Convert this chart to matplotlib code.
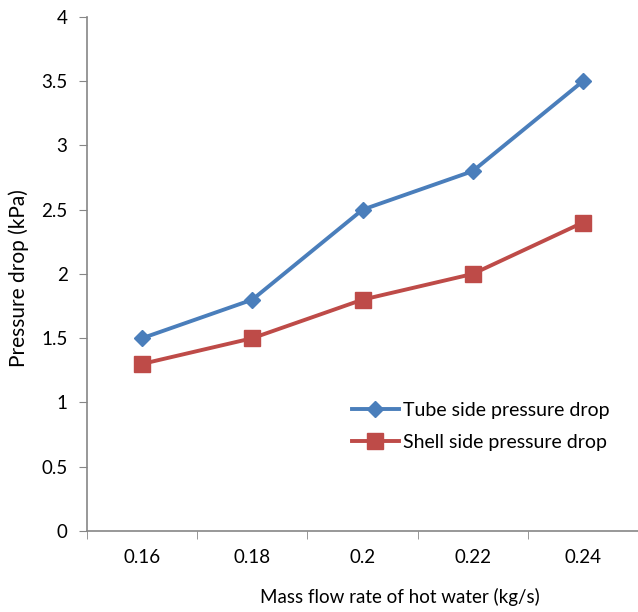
import matplotlib.pyplot as plt
import numpy as np

# datos
flujo = ["0.16", "0.18", "0.2", "0.22", "0.24"]
tubo = [1.5, 1.8, 2.5, 2.8, 3.5]
carcasa = [1.3, 1.5, 1.8, 2.0, 2.4]

plt.rcParams['font.family'] = ['Lato', 'DejaVu Sans']

fig = plt.figure(figsize=(6.38, 6.12), dpi=100)
ax = fig.add_axes([0.1364, 0.1324, 0.8636, 0.8399])

x = np.arange(len(flujo))
ax.plot(x, tubo, marker='D', markersize=8.5, linewidth=2.8, color='#4A7EBB',
        label="Tube side pressure drop")
ax.plot(x, carcasa, marker='s', markersize=11.5, linewidth=2.8, color='#BE4B48',
        label="Shell side pressure drop")

ax.set_xlim(-0.5, 4.45)
ax.set_ylim(0, 4)
ax.set_yticks(np.arange(0, 4.01, 0.5))
ax.set_yticklabels(["0", "0.5", "1", "1.5", "2", "2.5", "3", "3.5", "4"])
ax.set_xticks(x)
ax.set_xticklabels(flujo)
ax.set_xticks(np.arange(-0.5, 4.6, 1), minor=True)
ax.tick_params(axis='x', which='major', length=0, pad=13, labelsize=13.5)
ax.tick_params(axis='x', which='minor', length=6, color='#868686', direction='out')
ax.tick_params(axis='y', length=6, color='#868686', labelsize=13.5, pad=8)

for s in ['top', 'right']:
    ax.spines[s].set_visible(False)
for s in ['left', 'bottom']:
    ax.spines[s].set_color('#868686')
    ax.spines[s].set_linewidth(1.2)

ax.set_xlabel("Mass flow rate of hot water (kg/s)", fontsize=13.5)
ax.xaxis.set_label_coords((400 - 87) / 551, -(597 - 531) / 514)
ax.xaxis.label.set_va('center')
ax.set_ylabel("Pressure drop (kPa)", fontsize=15)
ax.yaxis.set_label_coords(-(87 - 19) / 551, (531 - 278) / 514)
ax.yaxis.label.set_va('center')

ax.legend(loc='center left', bbox_to_anchor=(352 / 638, 1 - 426.5 / 612),
          bbox_transform=fig.transFigure, frameon=False, borderpad=0,
          borderaxespad=0, fontsize=14, handlelength=2.4, handletextpad=0.2,
          labelspacing=0.75)

fig.savefig("out.png", dpi=100)
